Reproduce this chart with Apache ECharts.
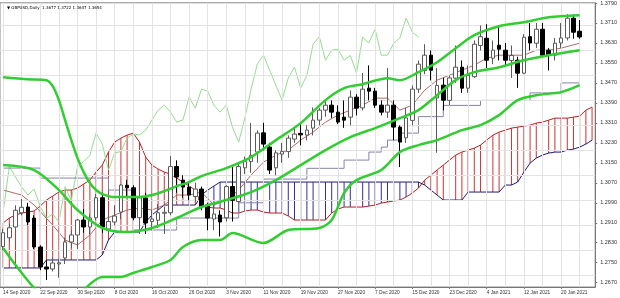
<!DOCTYPE html>
<html><head><meta charset="utf-8">
<script src="https://cdn.jsdelivr.net/npm/echarts@6/dist/echarts.min.js"></script>
<style>html,body{margin:0;padding:0;background:#fff}#c{width:620px;height:298px}</style>
</head><body><div id="c"></div>
<script>
const dates=["14 Sep 2020","15 Sep 2020","16 Sep 2020","17 Sep 2020","18 Sep 2020","21 Sep 2020","22 Sep 2020","23 Sep 2020","24 Sep 2020","25 Sep 2020","28 Sep 2020","29 Sep 2020","30 Sep 2020","1 Oct 2020","2 Oct 2020","5 Oct 2020","6 Oct 2020","7 Oct 2020","8 Oct 2020","9 Oct 2020","12 Oct 2020","13 Oct 2020","14 Oct 2020","15 Oct 2020","16 Oct 2020","19 Oct 2020","20 Oct 2020","21 Oct 2020","22 Oct 2020","23 Oct 2020","26 Oct 2020","27 Oct 2020","28 Oct 2020","29 Oct 2020","30 Oct 2020","2 Nov 2020","3 Nov 2020","4 Nov 2020","5 Nov 2020","6 Nov 2020","9 Nov 2020","10 Nov 2020","11 Nov 2020","12 Nov 2020","13 Nov 2020","16 Nov 2020","17 Nov 2020","18 Nov 2020","19 Nov 2020","20 Nov 2020","23 Nov 2020","24 Nov 2020","25 Nov 2020","26 Nov 2020","27 Nov 2020","30 Nov 2020","1 Dec 2020","2 Dec 2020","3 Dec 2020","4 Dec 2020","7 Dec 2020","8 Dec 2020","9 Dec 2020","10 Dec 2020","11 Dec 2020","14 Dec 2020","15 Dec 2020","16 Dec 2020","17 Dec 2020","18 Dec 2020","21 Dec 2020","22 Dec 2020","23 Dec 2020","24 Dec 2020","28 Dec 2020","29 Dec 2020","30 Dec 2020","31 Dec 2020","4 Jan 2021","5 Jan 2021","6 Jan 2021","7 Jan 2021","8 Jan 2021","11 Jan 2021","12 Jan 2021","13 Jan 2021","14 Jan 2021","15 Jan 2021","18 Jan 2021","19 Jan 2021","20 Jan 2021","21 Jan 2021","22 Jan 2021","25 Jan 2021","26 Jan 2021","27 Jan 2021"];

const opens=[1.2815,1.2850,1.2893,1.2950,1.2973,1.2929,1.2813,1.2733,1.2725,1.2745,1.2769,1.2833,1.2861,1.2921,1.2893,1.2930,1.3010,1.2885,1.2913,1.2953,1.3060,1.3050,1.2930,1.3009,1.2915,1.2920,1.2948,1.2950,1.3135,1.3081,1.3053,1.3015,1.3045,1.2981,1.2925,1.2941,1.2930,1.3055,1.2995,1.3130,1.3155,1.3193,1.3270,1.3213,1.3130,1.3185,1.3195,1.3245,1.3268,1.3261,1.3289,1.3321,1.3361,1.3381,1.3353,1.3333,1.3333,1.3413,1.3370,1.3449,1.3437,1.3381,1.3353,1.3381,1.3293,1.3250,1.3320,1.3445,1.3520,1.3581,1.3410,1.3461,1.3400,1.3489,1.3533,1.3449,1.3495,1.3620,1.3649,1.3569,1.3621,1.3601,1.3560,1.3561,1.3509,1.3655,1.3629,1.3685,1.3601,1.3581,1.3630,1.3650,1.3729,1.3677];
const closes=[1.2870,1.2890,1.2960,1.2972,1.2913,1.2813,1.2733,1.2725,1.2749,1.2750,1.2833,1.2861,1.2921,1.2893,1.2929,1.3010,1.2893,1.2915,1.2937,1.3061,1.3050,1.2930,1.3010,1.2909,1.2925,1.2950,1.2952,1.3135,1.3093,1.3053,1.3021,1.3045,1.2975,1.2929,1.2945,1.2913,1.3055,1.3000,1.3135,1.3155,1.3180,1.3269,1.3225,1.3121,1.3190,1.3195,1.3249,1.3265,1.3262,1.3281,1.3321,1.3361,1.3381,1.3353,1.3313,1.3321,1.3413,1.3369,1.3445,1.3437,1.3381,1.3353,1.3381,1.3293,1.3233,1.3330,1.3445,1.3545,1.3581,1.3521,1.3460,1.3401,1.3490,1.3533,1.3449,1.3501,1.3625,1.3655,1.3561,1.3601,1.3605,1.3561,1.3580,1.3509,1.3653,1.3630,1.3685,1.3581,1.3581,1.3629,1.3650,1.3729,1.3673,1.3654];
const lows=[1.2800,1.2835,1.2880,1.2940,1.2900,1.2805,1.2720,1.2681,1.2715,1.2690,1.2745,1.2810,1.2805,1.2870,1.2865,1.2920,1.2870,1.2865,1.2900,1.2925,1.3015,1.2920,1.2865,1.2865,1.2880,1.2890,1.2865,1.2940,1.3030,1.3010,1.3000,1.2995,1.2960,1.2880,1.2880,1.2855,1.2915,1.2915,1.2990,1.3105,1.3110,1.3150,1.3200,1.3105,1.3100,1.3150,1.3170,1.3230,1.3220,1.3240,1.3260,1.3300,1.3335,1.3330,1.3305,1.3290,1.3300,1.3340,1.3360,1.3400,1.3370,1.3340,1.3330,1.3240,1.3133,1.3230,1.3300,1.3430,1.3505,1.3480,1.3190,1.3360,1.3380,1.3470,1.3430,1.3430,1.3490,1.3600,1.3530,1.3545,1.3560,1.3535,1.3490,1.3450,1.3505,1.3600,1.3610,1.3575,1.3520,1.3560,1.3610,1.3640,1.3647,1.3647];
const highs=[1.2885,1.2905,1.2980,1.3005,1.2990,1.2940,1.2820,1.2760,1.2770,1.2765,1.2850,1.2880,1.2925,1.2965,1.2945,1.3025,1.3030,1.2945,1.2980,1.3065,1.3082,1.3060,1.3030,1.3030,1.2960,1.2985,1.2975,1.3177,1.3160,1.3100,1.3070,1.3070,1.3055,1.2990,1.2980,1.2960,1.3060,1.3140,1.3150,1.3175,1.3310,1.3280,1.3310,1.3230,1.3200,1.3230,1.3260,1.3290,1.3310,1.3300,1.3372,1.3370,1.3400,1.3400,1.3380,1.3400,1.3440,1.3425,1.3510,1.3540,1.3450,1.3400,1.3530,1.3400,1.3300,1.3370,1.3460,1.3560,1.3625,1.3600,1.3530,1.3490,1.3500,1.3620,1.3560,1.3540,1.3640,1.3700,1.3705,1.3640,1.3700,1.3630,1.3620,1.3575,1.3665,1.3710,1.3710,1.3710,1.3610,1.3650,1.3710,1.3745,1.3745,1.3722];

// Bollinger bands, read at sampled bars [bar, price]
const bbUpper=[[0,1.3493],[4,1.3485],[7,1.3481],[8,1.3457],[9,1.3401],[10,1.3321],[11,1.3241],[12,1.3169],[13,1.3113],[14,1.3069],[15,1.3041],[16,1.3025],[18,1.3013],[20,1.3013],[22,1.3013],[24,1.3021],[26,1.3037],[28,1.3057],[30,1.3073],[32,1.3097],[36,1.3129],[40,1.3173],[44,1.3241],[48,1.3309],[52,1.3401],[55,1.3449],[58,1.3465],[62,1.3489],[64,1.3481],[67,1.3513],[70,1.3553],[73,1.3609],[76,1.3661],[80,1.3697],[84,1.3713],[88,1.3733],[93,1.3741]];
const bbMiddle=[[0,1.3141],[5,1.3121],[9,1.3041],[12,1.2961],[16,1.2889],[20,1.2873],[24,1.2889],[28,1.2929],[32,1.2973],[36,1.3001],[40,1.3033],[44,1.3081],[48,1.3141],[52,1.3201],[56,1.3253],[60,1.3289],[64,1.3329],[67,1.3361],[70,1.3421],[73,1.3481],[76,1.3513],[80,1.3533],[84,1.3561],[88,1.3581],[93,1.3601]];
const bbLower=[[0,1.2809],[2,1.2741],[5,1.2649],[8,1.2581],[11,1.2581],[13,1.2641],[16,1.2693],[19,1.2693],[21,1.2709],[24,1.2733],[27,1.2761],[29,1.2813],[32,1.2841],[35,1.2841],[37,1.2869],[42,1.2829],[46,1.2881],[51,1.2889],[53,1.2921],[55,1.3029],[57,1.3081],[61,1.3121],[64,1.3193],[67,1.3221],[70,1.3241],[74,1.3281],[77,1.3301],[80,1.3341],[83,1.3401],[86,1.3421],[90,1.3433],[93,1.3461]];

// Ichimoku
const tenkan=[[0,1.3041],[3,1.3021],[5,1.2981],[8,1.2901],[10,1.2841],[12,1.2821],[14,1.2861],[16,1.2921],[18,1.2941],[20,1.2961],[22,1.2969],[24,1.2961],[26,1.2981],[28,1.3021],[30,1.3021],[32,1.3033],[34,1.2981],[36,1.3001],[38,1.3041],[40,1.3101],[42,1.3153],[44,1.3181],[46,1.3201],[48,1.3241],[50,1.3273],[52,1.3313],[54,1.3341],[56,1.3361],[58,1.3381],[60,1.3409],[62,1.3409],[64,1.3361],[66,1.3381],[68,1.3441],[70,1.3481],[72,1.3501],[74,1.3521],[76,1.3541],[78,1.3569],[80,1.3581],[84,1.3581],[86,1.3601],[88,1.3601],[90,1.3609],[93,1.3629]];
const kijun=[[0,1.3129],[6,1.3089],[17,1.3041],[21,1.2881],[28,1.2929],[38,1.2990],[42,1.3085],[49,1.3128],[55,1.3161],[59,1.3193],[61,1.3213],[62,1.3241],[64,1.3269],[67,1.3335],[71,1.3380],[77,1.3400],[85,1.3430],[90,1.3470],[93,1.3470]];
const spanA=[1.2909,1.2929,1.2941,1.2949,1.2953,1.2957,1.2977,1.3001,1.3017,1.3033,1.3041,1.3041,1.3049,1.3065,1.3081,1.3113,1.3141,1.3193,1.3233,1.3249,1.3261,1.3269,1.3233,1.3173,1.3141,1.3125,1.3113,1.3105,1.3089,1.3073,1.3057,1.3041,1.2981,1.2973,1.2969,1.2969,1.2961,1.2949,1.2949,1.2957,1.2961,1.2961,1.2953,1.2949,1.2949,1.2949,1.2937,1.2921,1.2921,1.2921,1.2921,1.2921,1.2921,1.2949,1.2965,1.2973,1.2973,1.2973,1.2973,1.2977,1.2981,1.2989,1.2993,1.2997,1.3001,1.3013,1.3029,1.3049,1.3081,1.3101,1.3121,1.3141,1.3161,1.3181,1.3193,1.3201,1.3209,1.3221,1.3241,1.3261,1.3273,1.3281,1.3289,1.3293,1.3297,1.3301,1.3309,1.3313,1.3321,1.3329,1.3329,1.3329,1.3333,1.3337,1.3361,1.3373];
const spanB=[1.2729,1.2729,1.2729,1.2729,1.2729,1.2729,1.2729,1.2761,1.2761,1.2761,1.2761,1.2761,1.2761,1.2761,1.2761,1.2761,1.2781,1.2841,1.2873,1.2873,1.2873,1.2873,1.2873,1.2913,1.2941,1.2961,1.2981,1.2981,1.2981,1.2981,1.2981,1.2981,1.3021,1.3041,1.3057,1.3073,1.3073,1.3073,1.3073,1.3073,1.3073,1.3073,1.3073,1.3073,1.3073,1.3073,1.3073,1.3073,1.3073,1.3073,1.3073,1.3073,1.3073,1.3073,1.3073,1.3073,1.3073,1.3073,1.3073,1.3073,1.3073,1.3073,1.3073,1.3073,1.3073,1.3073,1.3073,1.3073,1.3061,1.3041,1.3021,1.3001,1.3001,1.3001,1.3001,1.3033,1.3033,1.3033,1.3033,1.3033,1.3033,1.3061,1.3061,1.3073,1.3113,1.3149,1.3169,1.3181,1.3189,1.3193,1.3193,1.3201,1.3205,1.3213,1.3225,1.3241];
const chikouShift=26;

const yTicks=[1.2670,1.2750,1.2830,1.2910,1.2990,1.3070,1.3150,1.3230,1.3310,1.3390,1.3470,1.3550,1.3630,1.3710,1.3790];
const lastPrice=1.3654;
const header='\u25BC GBPUSD,Daily  1.3677 1.3722 1.3647 1.3654';

const candleData=opens.map((o,i)=>[o,closes[i],lows[i],highs[i]]);
const chikou=closes.slice(chikouShift).map((c,i)=>[i,c]);
const cloud=spanA.map((a,i)=>[i,a,spanB[i]]);
const vGrid=[];for(let i=0;i<dates.length;i+=3)vGrid.push({xAxis:dates[i]});
const hGrid=yTicks.map(v=>({yAxis:v}));

const chart=echarts.init(document.getElementById('c'),null,{renderer:'canvas'});
const thin={symbol:'none',animation:false,silent:true};
chart.setOption({
  animation:false,
  backgroundColor:'#fff',
  title:{text:header,left:2,top:1,textStyle:{fontSize:4,fontWeight:'normal',color:'#000',fontFamily:'DejaVu Sans'}},
  grid:{left:-3,right:23,top:0,bottom:11,show:true,borderColor:'#8a8a8a',borderWidth:1,backgroundColor:'transparent'},
  xAxis:{type:'category',data:dates,boundaryGap:true,
    axisLine:{lineStyle:{color:'#777'}},
    axisTick:{show:true,interval:5,alignWithLabel:true,length:2,lineStyle:{color:'#777'}},
    axisLabel:{interval:5,align:'left',fontSize:4.8,margin:3,color:'#333',fontFamily:'Liberation Sans'},
    splitLine:{show:false}},
  yAxis:{type:'value',position:'right',min:1.26528,max:1.37908,scale:true,
    axisLine:{show:true,lineStyle:{color:'#777'}},
    axisTick:{show:true,length:2,customValues:yTicks,lineStyle:{color:'#777'}},
    axisLabel:{customValues:yTicks,fontSize:5.5,margin:5,color:'#333',fontFamily:'Liberation Sans',formatter:v=>v.toFixed(4)},
    splitLine:{show:false}},
  series:[
    {type:'line',data:spanB,...thin,lineStyle:{opacity:0},z:1,
      markLine:{silent:true,symbol:['none','none'],label:{show:false},animation:false,
        lineStyle:{color:'#e3e3e3',type:'solid',width:1},data:vGrid.concat(hGrid)}},
    {type:'custom',data:cloud,z:2,clip:true,silent:true,animation:false,
      renderItem:function(params,api){
        const a=api.value(1),b=api.value(2);
        const p1=api.coord([api.value(0),a]),p2=api.coord([api.value(0),b]);
        return {type:'line',shape:{x1:p1[0],y1:p1[1],x2:p2[0],y2:p2[1]},
          style:{stroke:a>=b?'#cc3333':'#30309a',lineWidth:1}};
      }},
    {type:'line',data:spanA,...thin,z:3,lineStyle:{color:'#b22222',width:1}},
    {type:'line',data:spanB,...thin,z:3,lineStyle:{color:'#1c1c70',width:1}},
    {type:'line',data:chikou,...thin,z:4,lineStyle:{color:'#92de8e',width:1}},
    {type:'line',data:kijun,...thin,z:4,step:'end',lineStyle:{color:'#8484ac',width:1}},
    {type:'line',data:tenkan,...thin,z:4,lineStyle:{color:'#a85a5a',width:0.9}},
    {type:'candlestick',data:candleData,z:5,barWidth:4,silent:true,animation:false,
      itemStyle:{color:'#ffffff',color0:'#000000',borderColor:'#5a5a5a',borderColor0:'#000000',borderWidth:1},
      markLine:{silent:true,symbol:['none','none'],animation:false,lineStyle:{opacity:0},
        label:{show:true,position:'end',distance:2,formatter:lastPrice.toFixed(4),color:'#fff',backgroundColor:'#000',padding:[1,2],fontSize:5.5,fontFamily:'Liberation Sans'},
        data:[{yAxis:lastPrice}]}},
    {type:'line',data:bbUpper,...thin,z:6,smooth:0.3,lineStyle:{color:'#32cd32',width:2.5}},
    {type:'line',data:bbMiddle,...thin,z:6,smooth:0.3,lineStyle:{color:'#32cd32',width:2.5}},
    {type:'line',data:bbLower,...thin,z:6,smooth:0.3,lineStyle:{color:'#32cd32',width:2.5}}
  ]
});
</script></body></html>
